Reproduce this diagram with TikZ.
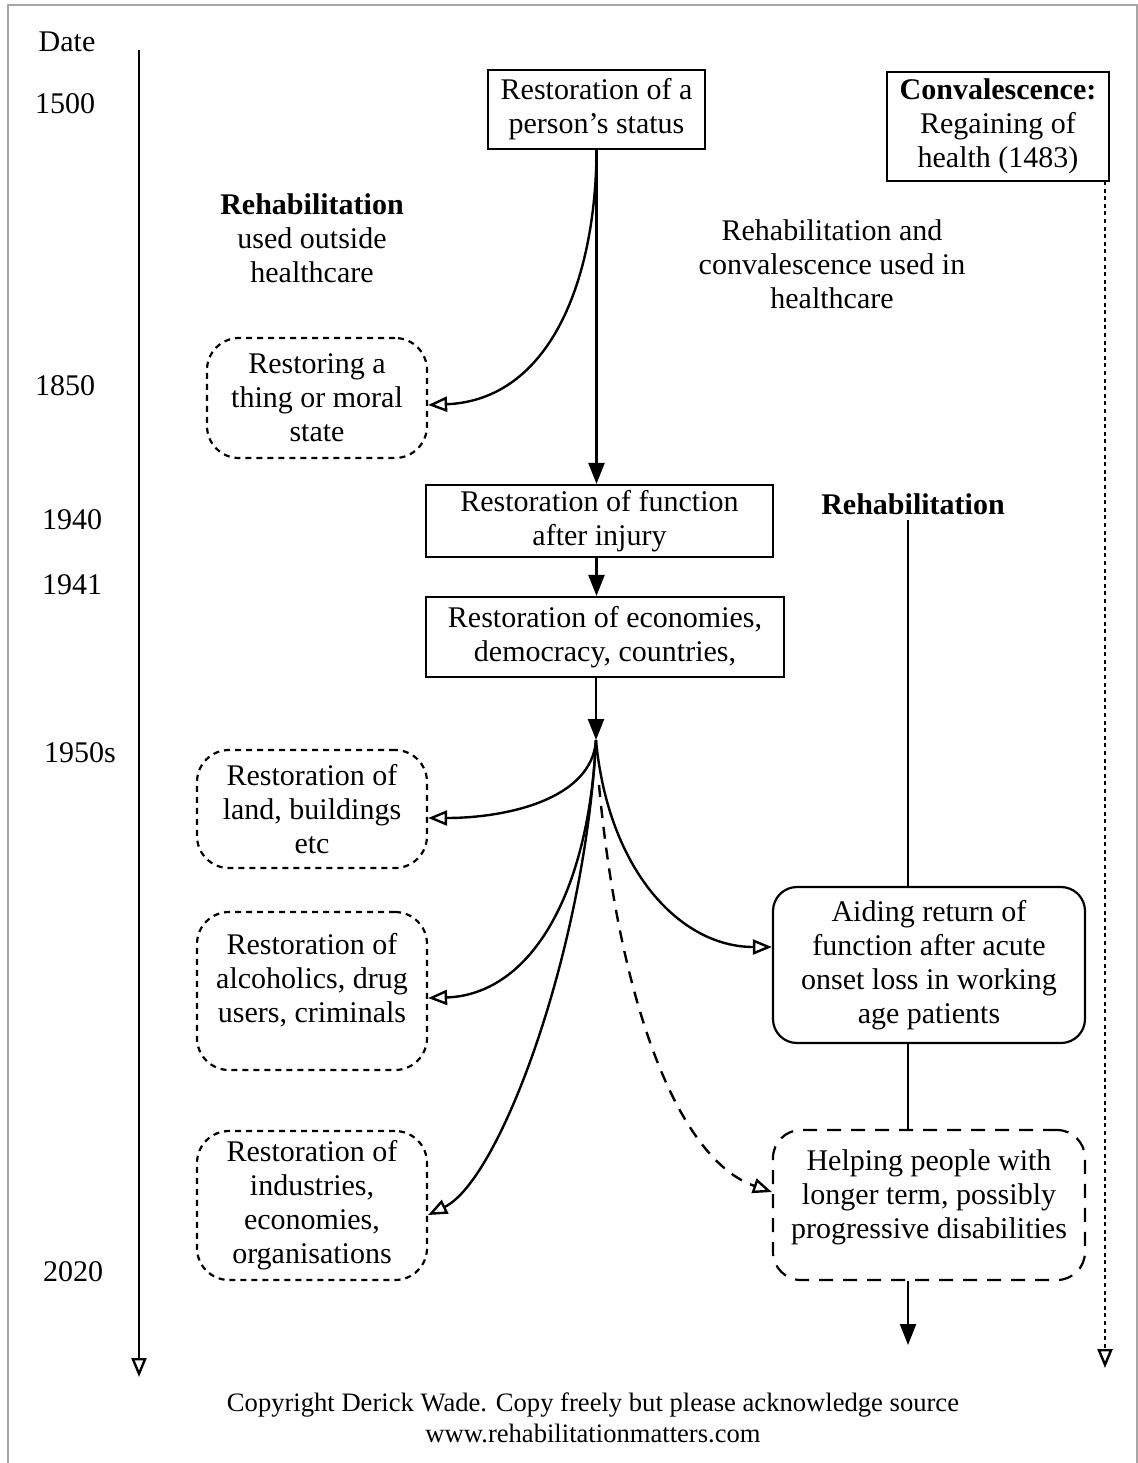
\documentclass[tikz,border=0pt]{standalone}
\usepackage{fontspec}
\setmainfont{Liberation Serif}
\usetikzlibrary{arrows.meta}
\begin{document}
\begin{tikzpicture}[x=0.5pt,y=-0.5pt,
  every node/.style={font=\fontsize{15}{17}\selectfont, align=center, inner sep=0pt},
  ln/.style={line width=1.2pt},
  sbox/.style={draw, line width=1.1pt},
  dbox/.style={draw, line width=1.1pt, dash pattern=on 3pt off 2.5pt, rounded corners=16pt},
  rbox/.style={draw, line width=1.1pt, rounded corners=12pt},
  ebox/.style={draw, line width=1.1pt, dash pattern=on 7pt off 5pt, rounded corners=14pt},
  fa/.style={-{Triangle[length=10.5pt,width=8pt]}},
  oa/.style={-{Triangle[open,length=9.5pt,width=7.5pt]}},
  foot/.style={font=\fontsize{13.3}{14}\selectfont}
]
\useasboundingbox (0,0) rectangle (1138,1463);
\draw[gray!70, line width=1pt] (8,1463) -- (8,5) -- (1137,5) -- (1137,1463);

% timeline
\node (date) at (67,42) {Date};
\node (y1500) at (65,104) {1500};
\node (y1850) at (65,386) {1850};
\node (y1940) at (72,520) {1940};
\node (y1941) at (72,585) {1941};
\node (y1950) at (80,753) {1950s};
\node (y2020) at (73,1272) {2020};
\coordinate (tl1) at (139,50);
\coordinate (tl2) at (139,1377);
\draw[ln, oa] (tl1) -- (tl2);

% boxes
\node[sbox, minimum width=108.5pt, minimum height=39.5pt] (A) at (596.5,109.5) {Restoration of a\\person's status};
\node[sbox, minimum width=111pt, minimum height=54.5pt] (conv) at (998,126.5) {\textbf{Convalescence:}\\Regaining of\\health (1483)};
\node (outside) at (312,238) {\textbf{Rehabilitation}\\used outside\\healthcare};
\node (inhc) at (832,264) {Rehabilitation and\\convalescence used in\\healthcare};
\node[dbox, minimum width=110pt, minimum height=60pt] (rest) at (317,398) {Restoring a\\thing or moral\\state};
\node[sbox, minimum width=173.5pt, minimum height=36pt] (B) at (599.5,521) {Restoration of function\\after injury};
\node[sbox, minimum width=179pt, minimum height=40pt] (C) at (605,637) {Restoration of economies,\\democracy, countries,};
\node (rehab) at (913,504) {\textbf{Rehabilitation}};
\node[dbox, minimum width=115pt, minimum height=59pt] (land) at (312,809) {Restoration of\\land, buildings\\etc};
\node[dbox, minimum width=115pt, minimum height=79pt] (alc) at (312,991) {Restoration of\\alcoholics, drug\\users, criminals\\[-4pt]};
\node[dbox, minimum width=115pt, minimum height=74.5pt] (ind) at (312,1205.5) {Restoration of\\industries,\\economies,\\organisations};
\node[rbox, minimum width=156pt, minimum height=78pt] (D) at (929,965) {Aiding return of\\function after acute\\onset loss in working\\age patients};
\node[ebox, minimum width=156pt, minimum height=75pt] (E) at (929,1205) {Helping people with\\longer term, possibly\\progressive disabilities\\[-6pt]};

% footer
\node[foot] (foot1) at (593,1405) {Copyright Derick Wade. Copy freely but please acknowledge source};
\node[foot] (foot2) at (593,1433) {www.rehabilitationmatters.com};

% connectors
\draw[ln, fa] (A.south) -- (B.north -| A.south);
\draw[ln, oa] (A.south) .. controls (596,280) and (550,400) .. ([yshift=-3.5pt]rest.east);
\draw[ln, fa] (B.south -| A.south) -- (C.north -| A.south);
\coordinate (hub) at (596,740);
\draw[ln, fa] (C.south -| hub) -- (hub);
\draw[ln, oa] (hub) .. controls (592,800) and (505,818) .. ([yshift=-4.5pt]land.east);
\draw[ln, oa] (hub) .. controls (588,905) and (525,995) .. ([yshift=-3.5pt]alc.east);
\draw[ln, oa] (hub) .. controls (585,950) and (500,1180) .. ([yshift=-4.75pt]ind.east);
\draw[ln, oa] (hub) .. controls (608,870) and (680,947) .. ([yshift=9pt]D.west);
\coordinate (dstart) at (599,785);
\draw[ln, oa, dash pattern=on 6pt off 4.5pt] (dstart) .. controls (620,1010) and (680,1160) .. ([yshift=6.5pt]E.west);

% rehabilitation column
\coordinate (r1) at (908,520);
\draw[ln] (r1) -- (r1 |- D.north);
\draw[ln] (r1 |- D.south) -- (r1 |- E.north);
\coordinate (r2) at (908,1345);
\draw[ln, fa] (r1 |- E.south) -- (r2);

% convalescence dotted
\coordinate (c1) at (1105,181);
\coordinate (c2) at (1105,1368);
\draw[ln, oa, dash pattern=on 2pt off 1.8pt] (c1) -- (c2);
\end{tikzpicture}
\end{document}
